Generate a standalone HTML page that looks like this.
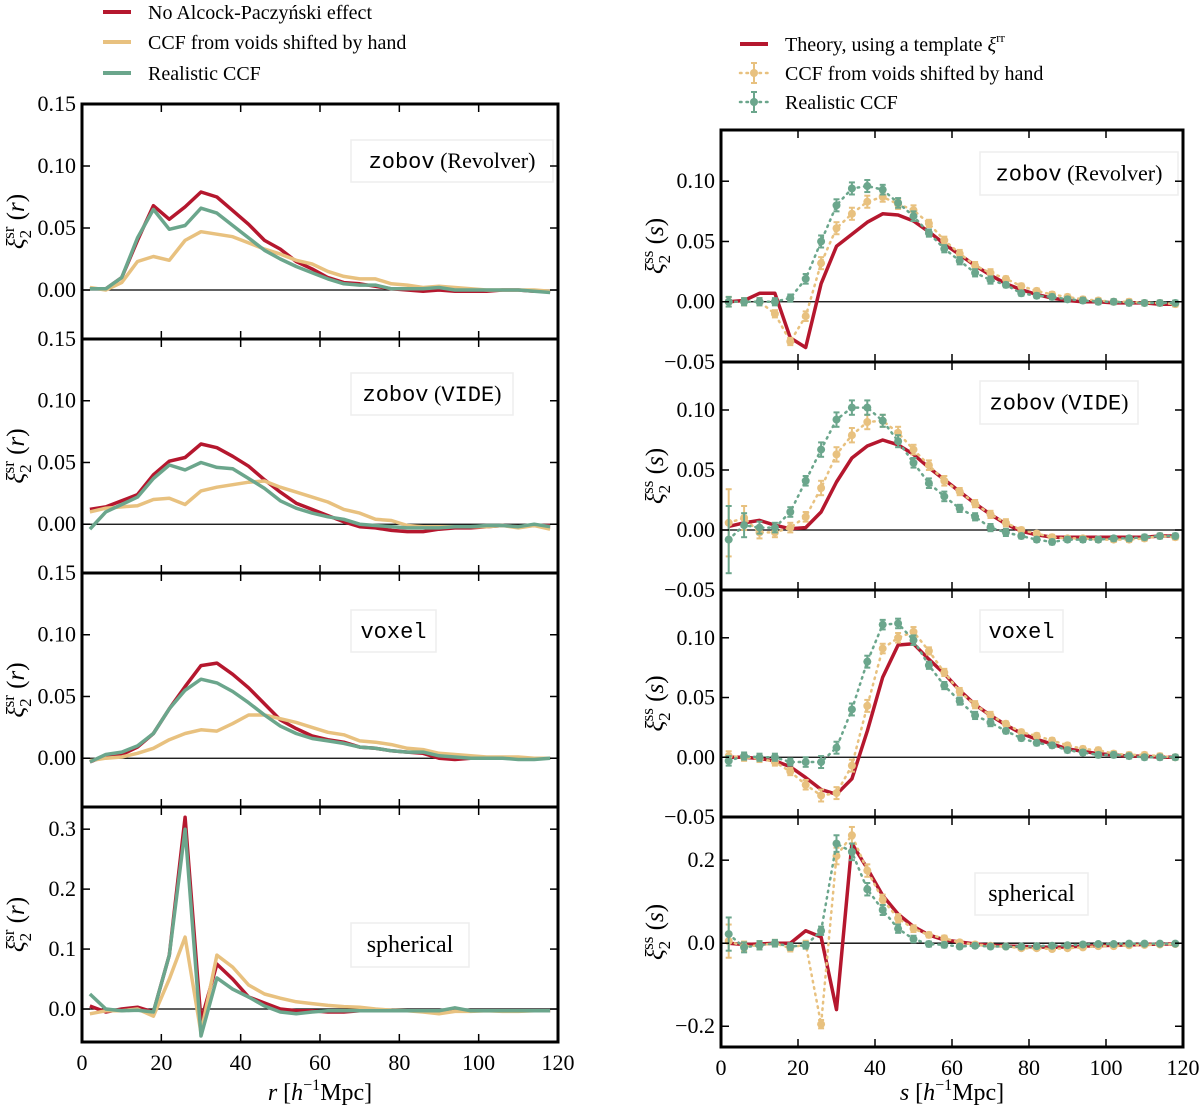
<!DOCTYPE html>
<html><head><meta charset="utf-8">
<style>
body{margin:0;background:#fff;}
svg{display:block;font-family:"Liberation Serif",serif;}
text{font-family:"Liberation Serif",serif;}
.tick{font-size:22px;fill:#000;font-family:"Liberation Serif",serif;}
.mono{font-family:"Liberation Mono",monospace;}
</style></head>
<body>
<svg id="chart" width="1200" height="1111" viewBox="0 0 1200 1111" xmlns="http://www.w3.org/2000/svg"></svg>
<script>
const xs = [2,6,10,14,18,22,26,30,34,38,42,46,50,54,58,62,66,70,74,78,82,86,90,94,98,102,106,110,114,118];
const L1red = [0.001,0.001,0.01,0.04,0.068,0.057,0.067,0.079,0.075,0.064,0.053,0.04,0.033,0.023,0.017,0.01,0.006,0.005,0.003,0.001,0,-0.001,0,-0.001,-0.001,-0.001,0,0,-0.001,-0.001];
const L1grn = [0.001,0.001,0.01,0.042,0.065,0.049,0.052,0.066,0.062,0.052,0.042,0.032,0.025,0.019,0.014,0.009,0.005,0.004,0.004,0.001,0.001,0.001,0.002,0,0,0,0,0,-0.001,-0.002];
const L1org = [0.002,0,0.006,0.023,0.027,0.024,0.04,0.047,0.045,0.043,0.038,0.033,0.029,0.024,0.021,0.015,0.011,0.009,0.009,0.005,0.004,0.002,0.003,0.002,0.001,0,0,0,0,-0.001];
const L2red = [0.012,0.014,0.019,0.024,0.04,0.051,0.054,0.065,0.062,0.055,0.047,0.036,0.026,0.017,0.012,0.007,0.002,-0.002,-0.003,-0.005,-0.006,-0.006,-0.004,-0.003,-0.003,-0.002,-0.001,-0.002,-0.001,-0.001];
const L2grn = [-0.004,0.01,0.016,0.022,0.037,0.048,0.044,0.05,0.046,0.045,0.037,0.029,0.019,0.013,0.009,0.006,0.004,0,-0.001,-0.002,-0.003,-0.003,-0.003,-0.002,-0.002,-0.001,-0.001,-0.002,0,-0.002];
const L2org = [0.01,0.013,0.014,0.015,0.02,0.021,0.016,0.027,0.03,0.032,0.034,0.035,0.03,0.026,0.022,0.018,0.012,0.009,0.004,0.003,-0.001,-0.002,-0.002,-0.002,-0.002,-0.002,-0.001,-0.003,-0.001,-0.004];
const L3red = [-0.003,0.002,0.003,0.009,0.02,0.04,0.058,0.075,0.077,0.068,0.057,0.044,0.031,0.024,0.018,0.015,0.013,0.009,0.008,0.006,0.005,0.004,0,-0.001,0,0,0,0,0,0];
const L3grn = [-0.003,0.003,0.005,0.01,0.02,0.04,0.055,0.064,0.061,0.054,0.045,0.035,0.026,0.02,0.016,0.014,0.012,0.009,0.008,0.006,0.005,0.005,0.002,0.001,0,0,0,-0.001,-0.001,0];
const L3org = [-0.002,0,0.001,0.004,0.008,0.015,0.02,0.023,0.022,0.028,0.035,0.035,0.032,0.029,0.025,0.021,0.019,0.014,0.013,0.011,0.008,0.007,0.004,0.003,0.002,0.001,0.001,0.001,0,0];
const L4red = [0.005,-0.005,0,0.003,-0.005,0.09,0.32,-0.02,0.075,0.05,0.02,0.01,0,-0.003,-0.003,-0.005,-0.005,-0.003,-0.003,-0.003,-0.003,-0.003,-0.003,-0.003,-0.003,-0.003,-0.003,-0.003,-0.003,-0.003];
const L4grn = [0.025,0,-0.003,-0.002,-0.005,0.09,0.3,-0.045,0.052,0.033,0.02,0.005,-0.005,-0.008,-0.005,-0.003,-0.003,-0.003,-0.003,-0.003,-0.003,-0.003,-0.003,0.002,-0.003,-0.003,-0.003,-0.003,-0.003,-0.003];
const L4org = [-0.008,-0.003,-0.003,0,-0.012,0.05,0.12,-0.04,0.09,0.07,0.04,0.025,0.018,0.012,0.009,0.006,0.004,0.003,0,-0.002,-0.003,-0.005,-0.008,-0.004,-0.004,-0.003,-0.004,-0.004,-0.003,-0.003];
const R1red = [0,0.001,0.007,0.007,-0.03,-0.038,0.015,0.046,0.056,0.066,0.073,0.072,0.067,0.058,0.048,0.039,0.03,0.022,0.015,0.01,0.006,0.003,0.001,0,0,-0.001,-0.001,-0.001,-0.002,-0.002];
const R1org = [0,0,0,-0.01,-0.033,-0.012,0.032,0.061,0.073,0.083,0.087,0.081,0.076,0.065,0.051,0.04,0.03,0.024,0.019,0.013,0.009,0.006,0.004,0.002,0.001,0,0,-0.001,-0.001,-0.002];
const R1grn = [0,0,0,0,0.003,0.019,0.05,0.08,0.094,0.096,0.093,0.082,0.071,0.057,0.044,0.034,0.024,0.018,0.014,0.007,0.005,0.004,0.002,0.001,0,0,-0.001,-0.001,-0.001,-0.001];
const R2red = [0.003,0.006,0.008,0.004,0.001,0.002,0.015,0.04,0.06,0.07,0.075,0.071,0.063,0.052,0.042,0.032,0.022,0.013,0.005,-0.001,-0.004,-0.006,-0.006,-0.006,-0.006,-0.006,-0.006,-0.006,-0.005,-0.005];
const R2org = [0.006,0.01,-0.002,-0.002,0.002,0.011,0.035,0.063,0.079,0.09,0.091,0.081,0.067,0.054,0.041,0.032,0.022,0.013,0.006,0,-0.003,-0.006,-0.007,-0.007,-0.008,-0.008,-0.008,-0.007,-0.005,-0.006];
const R2grn = [-0.008,0.004,0.002,0.002,0.015,0.041,0.067,0.092,0.102,0.102,0.091,0.074,0.056,0.039,0.028,0.018,0.011,0.002,-0.002,-0.005,-0.008,-0.01,-0.008,-0.008,-0.008,-0.007,-0.007,-0.006,-0.005,-0.005];
const R3red = [0,0,-0.001,-0.003,-0.008,-0.017,-0.027,-0.031,-0.018,0.022,0.067,0.094,0.095,0.082,0.07,0.056,0.044,0.035,0.027,0.02,0.015,0.011,0.007,0.005,0.003,0.002,0.001,0.001,0,0];
const R3org = [0.001,0,-0.001,-0.004,-0.012,-0.023,-0.032,-0.03,-0.007,0.043,0.091,0.1,0.105,0.089,0.071,0.055,0.044,0.035,0.028,0.021,0.018,0.014,0.01,0.007,0.006,0.003,0.002,0.002,0.001,0];
const R3grn = [-0.003,0.001,0,0,-0.004,-0.004,-0.004,0.008,0.04,0.08,0.111,0.112,0.098,0.077,0.06,0.047,0.035,0.029,0.022,0.016,0.012,0.01,0.006,0.004,0.002,0.002,0.001,0,0,0];
const R4red = [0,-0.003,-0.002,0,0,0.03,0.015,-0.16,0.24,0.18,0.115,0.07,0.04,0.02,0.008,0.003,-0.002,-0.005,-0.007,-0.008,-0.009,-0.01,-0.009,-0.007,-0.006,-0.005,-0.004,-0.003,-0.002,-0.002];
const R4org = [0.005,-0.008,-0.005,0,-0.012,-0.002,-0.195,0.21,0.26,0.175,0.105,0.06,0.035,0.02,0.012,0.002,-0.003,-0.006,-0.008,-0.012,-0.012,-0.014,-0.012,-0.01,-0.007,-0.007,-0.005,-0.004,-0.003,-0.002];
const R4grn = [0.022,-0.01,-0.005,0,-0.008,-0.005,0.03,0.24,0.22,0.13,0.08,0.035,0.01,-0.002,-0.004,-0.008,-0.006,-0.008,-0.008,-0.008,-0.007,-0.006,-0.005,-0.003,-0.002,-0.002,-0.001,-0.001,-0.001,-0.001];
const errSmall = [0.004,0.003,0.003,0.003,0.003,0.004,0.005,0.005,0.005,0.005,0.004,0.004,0.004,0.003,0.003,0.003,0.003,0.003,0.002,0.002,0.002,0.002,0.002,0.002,0.002,0.002,0.002,0.002,0.002,0.002];
const errVide = [0.028,0.01,0.005,0.004,0.004,0.004,0.006,0.006,0.006,0.006,0.005,0.005,0.004,0.004,0.004,0.003,0.003,0.003,0.003,0.002,0.002,0.002,0.002,0.002,0.002,0.002,0.002,0.002,0.002,0.002];
const errSph = [0.04,0.012,0.01,0.008,0.008,0.008,0.01,0.02,0.02,0.015,0.012,0.01,0.008,0.006,0.006,0.005,0.005,0.005,0.004,0.004,0.004,0.004,0.004,0.004,0.004,0.004,0.004,0.004,0.004,0.004];
const xTicks = [0,20,40,60,80,100,120];

const RED="#b5172e", ORG="#e8c17f", GRN="#6ba68c";
const NS="http://www.w3.org/2000/svg";
const svg=document.getElementById('chart');
function mk(tag,attrs,parent){const e=document.createElementNS(NS,tag);for(const k in attrs)e.setAttribute(k,attrs[k]);(parent||svg).appendChild(e);return e;}

const panels=[
 {name:'left-zobov-revolver',x0:82,x1:558,y0:104,y1:339,ymin:-0.0395,ymax:0.15,ticks:[0,0.05,0.1,0.15],lab:['0.00','0.05','0.10','0.15'],series:[[L1red,RED],[L1org,ORG],[L1grn,GRN]],err:false,label:'zobov',sub:'Revolver',subMono:false,bx:351,by:140,bw:202,bh:42,ylab:'sr',v:'r'},
 {name:'left-zobov-vide',x0:82,x1:558,y0:339,y1:573,ymin:-0.0395,ymax:0.15,ticks:[0,0.05,0.1,0.15],lab:['0.00','0.05','0.10','0.15'],series:[[L2red,RED],[L2org,ORG],[L2grn,GRN]],err:false,label:'zobov',sub:'VIDE',subMono:true,bx:351,by:373,bw:162,bh:42,ylab:'sr',v:'r'},
 {name:'left-voxel',x0:82,x1:558,y0:573,y1:807,ymin:-0.0395,ymax:0.15,ticks:[0,0.05,0.1,0.15],lab:['0.00','0.05','0.10','0.15'],series:[[L3red,RED],[L3org,ORG],[L3grn,GRN]],err:false,label:'voxel',sub:'',bx:351,by:610,bw:85,bh:42,ylab:'sr',v:'r'},
 {name:'left-spherical',x0:82,x1:558,y0:807,y1:1042,ymin:-0.055,ymax:0.337,ticks:[0,0.1,0.2,0.3],lab:['0.0','0.1','0.2','0.3'],series:[[L4red,RED],[L4org,ORG],[L4grn,GRN]],err:false,label:'spherical',sub:'',serifLabel:true,bx:351,by:923,bw:118,bh:44,ylab:'sr',v:'r'},
 {name:'right-zobov-revolver',x0:721,x1:1183,y0:130,y1:362,ymin:-0.05,ymax:0.1425,ticks:[-0.05,0,0.05,0.1],lab:['\u22120.05','0.00','0.05','0.10'],series:[[R1red,RED],[R1org,ORG],[R1grn,GRN]],err:errSmall,label:'zobov',sub:'Revolver',bx:980,by:152,bw:198,bh:43,ylab:'ss',v:'s'},
 {name:'right-zobov-vide',x0:721,x1:1183,y0:362,y1:590,ymin:-0.05,ymax:0.14,ticks:[-0.05,0,0.05,0.1],lab:['\u22120.05','0.00','0.05','0.10'],series:[[R2red,RED],[R2org,ORG],[R2grn,GRN]],err:errVide,label:'zobov',sub:'VIDE',subMono:true,bx:980,by:381,bw:158,bh:43,ylab:'ss',v:'s'},
 {name:'right-voxel',x0:721,x1:1183,y0:590,y1:817,ymin:-0.05,ymax:0.14,ticks:[-0.05,0,0.05,0.1],lab:['\u22120.05','0.00','0.05','0.10'],series:[[R3red,RED],[R3org,ORG],[R3grn,GRN]],err:errSmall,label:'voxel',sub:'',bx:980,by:610,bw:83,bh:42,ylab:'ss',v:'s'},
 {name:'right-spherical',x0:721,x1:1183,y0:817,y1:1047,ymin:-0.25,ymax:0.304,ticks:[-0.2,0,0.2],lab:['\u22120.2','0.0','0.2'],series:[[R4red,RED],[R4org,ORG],[R4grn,GRN]],err:errSph,label:'spherical',sub:'',serifLabel:true,bx:975,by:873,bw:113,bh:42,ylab:'ss',v:'s'}
];

panels.forEach((p,pi)=>{
  const g=mk('g',{});
  
  
  const X=v=>p.x0+(v/120)*(p.x1-p.x0);
  const Y=v=>p.y1-(v-p.ymin)/(p.ymax-p.ymin)*(p.y1-p.y0);
  const cid='clip'+pi;
  const cp=mk('clipPath',{id:cid},g);mk('rect',{x:p.x0,y:p.y0,width:p.x1-p.x0,height:p.y1-p.y0},cp);
  const zl=mk('line',{x1:p.x0,x2:p.x1,y1:Y(0),y2:Y(0),stroke:'#000','stroke-width':1.3},g);
  
  
  const lb=mk('g',{},g);
  
  
  mk('rect',{x:p.bx,y:p.by,width:p.bw,height:p.bh,fill:'#fff',stroke:'#eee','stroke-width':1.5},lb);
  const t=mk('text',{x:p.bx+p.bw/2,y:p.by+p.bh/2+7,'text-anchor':'middle','font-size':22},lb);
  if(p.serifLabel){t.textContent=p.label;t.setAttribute('font-size','24');}
  else{
    const a=mk('tspan',{'class':'mono'},t);a.textContent=p.label;
    if(p.sub){const b=mk('tspan',{},t);b.textContent=' (';
      const c=mk('tspan',{'class':p.subMono?'mono':''},t);c.textContent=p.sub;
      const d=mk('tspan',{},t);d.textContent=')';}
  }
  const sg=mk('g',{'clip-path':'url(#'+cid+')'},g);
  p.series.forEach(([arr,col],si)=>{
    const pts=xs.map((x,i)=>X(x).toFixed(1)+','+Y(arr[i]).toFixed(1)).join(' ');
    const isErr = p.err && si>0;
    const pl=mk('polyline',{points:pts,fill:'none',stroke:col,'stroke-width':isErr?2.5:3.5,'stroke-linejoin':'round'},sg);
    if(isErr) pl.setAttribute('stroke-dasharray','1.5 5');
    if(isErr) pl.setAttribute('stroke-linecap','round');
    
    
    if(isErr){
      xs.forEach((x,i)=>{
        const cx=X(x),cy=Y(arr[i]),e=p.err[i];
        const eg=mk('g',{},sg);
        
        
        mk('line',{x1:cx,x2:cx,y1:Y(arr[i]-e),y2:Y(arr[i]+e),stroke:col,'stroke-width':2},eg);
        mk('line',{x1:cx-3,x2:cx+3,y1:Y(arr[i]-e),y2:Y(arr[i]-e),stroke:col,'stroke-width':2},eg);
        mk('line',{x1:cx-3,x2:cx+3,y1:Y(arr[i]+e),y2:Y(arr[i]+e),stroke:col,'stroke-width':2},eg);
        mk('circle',{cx:cx,cy:cy,r:4,fill:col},eg);
      });
    }
  });
  const fr=mk('rect',{x:p.x0,y:p.y0,width:p.x1-p.x0,height:p.y1-p.y0,fill:'none',stroke:'#000','stroke-width':3},g);
  
  
  xTicks.forEach(v=>{
    if(v>0&&v<120){
      mk('line',{x1:X(v),x2:X(v),y1:p.y1,y2:p.y1-8,stroke:'#000','stroke-width':1.5},g);
      mk('line',{x1:X(v),x2:X(v),y1:p.y0,y2:p.y0+8,stroke:'#000','stroke-width':1.5},g);
    }
  });
  p.ticks.forEach((v,i)=>{
    const y=Y(v);
    if(y>p.y0+1&&y<p.y1-1){
      mk('line',{x1:p.x0,x2:p.x0+8,y1:y,y2:y,stroke:'#000','stroke-width':1.5},g);
      mk('line',{x1:p.x1,x2:p.x1-8,y1:y,y2:y,stroke:'#000','stroke-width':1.5},g);
    }
    const tl=mk('text',{x:p.x0-6,y:y+7,'text-anchor':'end','class':'tick'},g);
    tl.textContent=p.lab[i];
    
    
  });
  const cy=(p.y0+p.y1)/2;
  const yt=mk('text',{transform:'translate('+(p.x0-58)+','+cy+') rotate(-90)','text-anchor':'middle','font-size':25,'font-style':'italic'},g);
  
  
  const a1=mk('tspan',{},yt);a1.textContent='\u03BE';
  const a2=mk('tspan',{'font-size':17,dy:7,'font-style':'normal'},yt);a2.textContent='2';
  const a3=mk('tspan',{'font-size':17,dy:-17,dx:-9,'font-style':'normal'},yt);a3.textContent=p.ylab;
  const a4=mk('tspan',{dy:10,'font-style':'normal'},yt);a4.textContent=' (';
  const a5=mk('tspan',{},yt);a5.textContent=p.v;
  const a6=mk('tspan',{'font-style':'normal'},yt);a6.textContent=')';
  if(pi===3||pi===7){
    xTicks.forEach(v=>{
      const tl=mk('text',{x:X(v),y:p.y1+28,'text-anchor':'middle','class':'tick'},g);
      tl.textContent=v;
      
      
    });
    const xt=mk('text',{x:(p.x0+p.x1)/2,y:1100,'text-anchor':'middle','font-size':24},g);
    
    
    const b1=mk('tspan',{'font-style':'italic'},xt);b1.textContent=p.v+' ';
    const b2=mk('tspan',{},xt);b2.textContent='[';
    const b3=mk('tspan',{'font-style':'italic'},xt);b3.textContent='h';
    const b4=mk('tspan',{'font-size':16,dy:-10},xt);b4.textContent='\u22121';
    const b5=mk('tspan',{dy:10},xt);b5.textContent='Mpc]';
  }
});

function legend(x,y,col,txt,marker,name){
  const g=mk('g',{});
  
  
  if(marker){
    mk('line',{x1:x,x2:x+28,y1:y,y2:y,stroke:col,'stroke-width':2.5,'stroke-dasharray':'1.5 5','stroke-linecap':'round'},g);
    mk('line',{x1:x+14,x2:x+14,y1:y-10,y2:y+10,stroke:col,'stroke-width':2},g);
    mk('line',{x1:x+11,x2:x+17,y1:y-10,y2:y-10,stroke:col,'stroke-width':2},g);
    mk('line',{x1:x+11,x2:x+17,y1:y+10,y2:y+10,stroke:col,'stroke-width':2},g);
    mk('circle',{cx:x+14,cy:y,r:4,fill:col},g);
  } else mk('line',{x1:x,x2:x+28,y1:y,y2:y,stroke:col,'stroke-width':4},g);
  const t=mk('text',{x:x+45,y:y+7,'font-size':20},g);
  t.innerHTML=txt;
}
legend(103,12,RED,'No Alcock-Paczyński effect',false,'legend-entry-no-ap');
legend(103,42,ORG,'CCF from voids shifted by hand',false,'legend-entry-shifted');
legend(103,73,GRN,'Realistic CCF',false,'legend-entry-realistic');
legend(740,44,RED,'Theory, using a template <tspan font-style="italic">ξ</tspan><tspan font-size="13" dy="-9">rr</tspan>',false,'legend-entry-theory');
legend(740,73,ORG,'CCF from voids shifted by hand',true,'legend-entry-shifted-right');
legend(740,102,GRN,'Realistic CCF',true,'legend-entry-realistic-right');
</script>
</body></html>
